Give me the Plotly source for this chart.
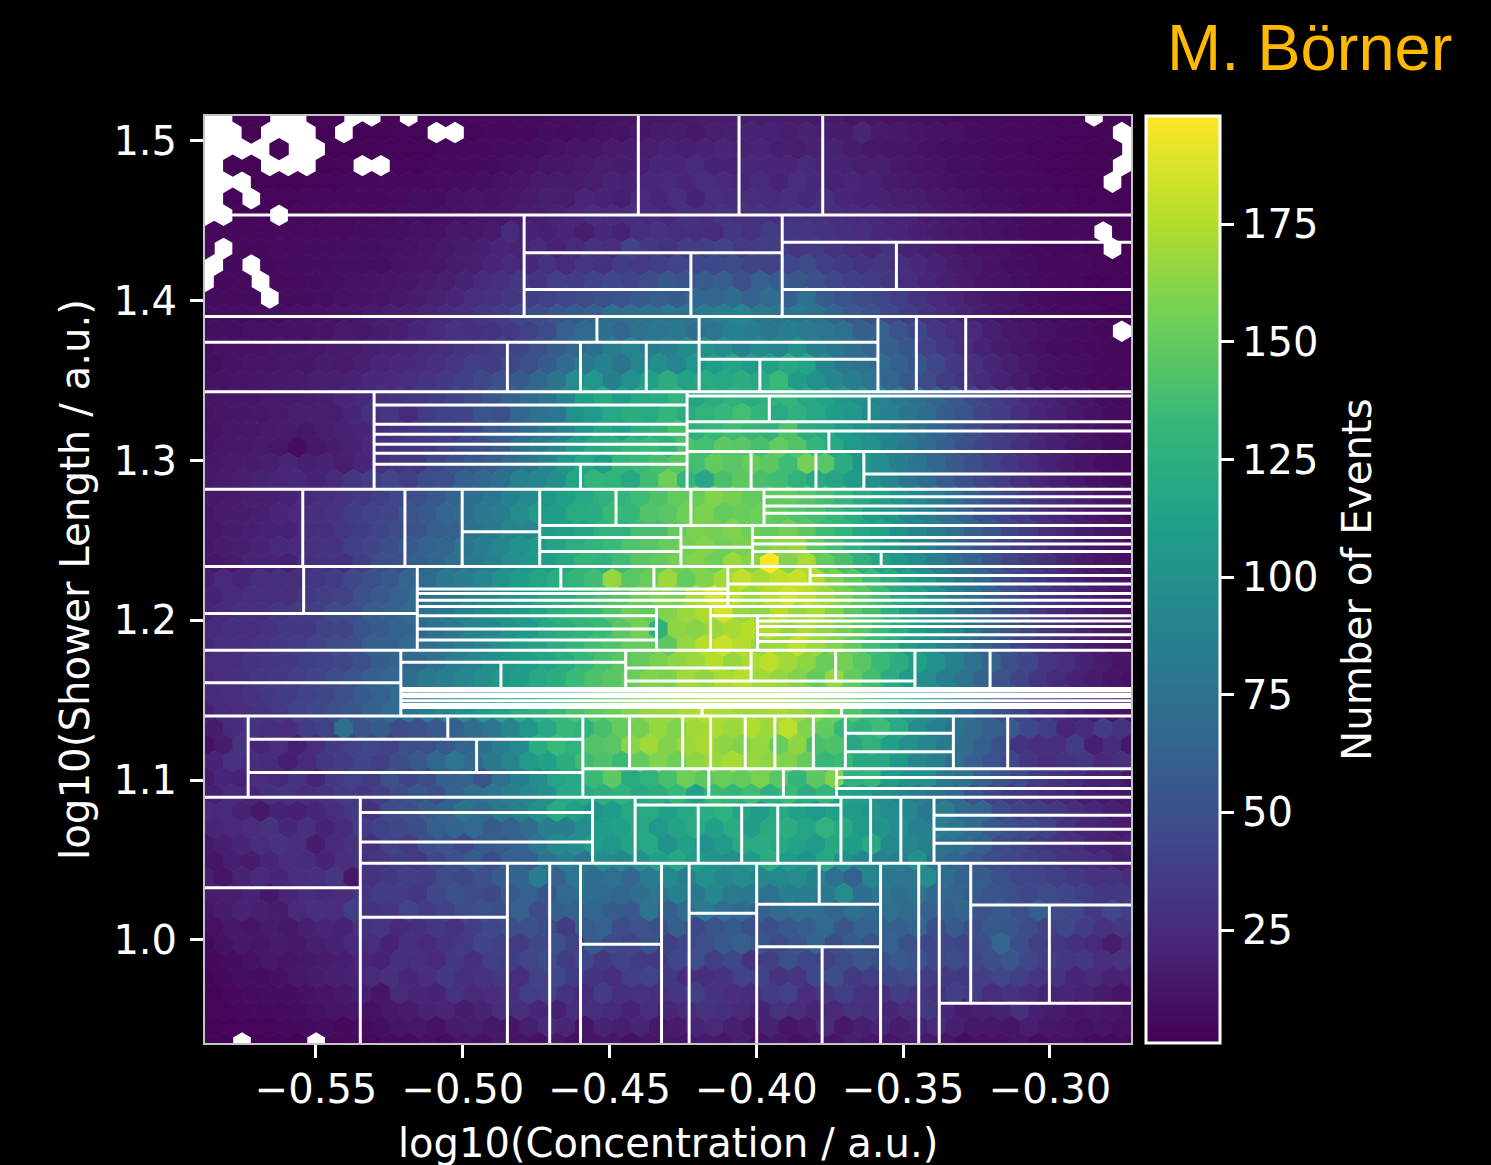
import plotly.graph_objects as go

X_MIN, X_MAX = -0.5878, -0.2724
Y_MIN, Y_MAX = 0.9355, 1.5156
XL, XR = X_MIN, X_MAX
YT = Y_MAX

x_ticks = [-0.55, -0.50, -0.45, -0.40, -0.35, -0.30]
y_ticks = [1.0, 1.1, 1.2, 1.3, 1.4, 1.5]
cbar_ticks = [25, 50, 75, 100, 125, 150, 175]

# Events per hexagonal bin, top row first; 0 = empty bin (drawn white)
r00 = [0,0,3,3,0,0,3,4,0,0,4,0,4,4,5,5,6,6,7,8,8,9,10,11,13,14,15,16,16,17,16,18,16,14,15,13,12,11,10,9,8,7,6,6,5,5,4,4,0,3,3]
r01 = [0,0,3,0,0,0,3,0,3,3,4,4,0,0,4,5,5,6,8,7,9,10,11,13,15,16,14,17,18,20,19,18,20,17,16,21,15,14,12,11,10,8,7,6,5,5,4,4,3,0]
r02 = [0,0,0,0,3,0,0,3,3,3,4,4,4,5,5,6,7,8,9,11,12,13,15,16,17,19,18,20,21,20,22,18,17,19,20,16,14,13,12,10,9,8,7,6,5,4,4,4,3,3,0]
r03 = [0,3,3,0,0,0,3,4,0,0,4,4,5,5,6,7,9,10,12,13,15,17,16,18,22,21,24,20,19,23,22,21,25,20,19,17,18,14,12,11,9,9,7,6,5,4,4,3,3,0]
r04 = [0,0,0,3,3,3,4,4,5,5,6,6,6,7,8,9,11,12,15,16,15,17,20,19,23,24,22,26,25,22,24,20,26,23,19,21,20,15,14,12,10,9,8,7,6,5,4,4,3,0,3]
r05 = [0,4,0,4,4,5,5,5,6,6,7,9,8,10,12,11,13,15,17,16,21,19,18,24,22,26,20,27,25,26,24,27,23,28,22,20,19,17,16,14,12,10,9,8,6,6,5,4,4,3]
r06 = [0,0,4,4,0,5,5,6,6,6,7,8,8,9,10,12,13,15,17,19,22,26,24,26,24,22,28,26,30,28,30,27,31,29,26,24,25,20,19,16,14,12,10,9,7,6,5,4,4,3,3]
r07 = [5,5,5,5,6,7,7,7,8,9,9,11,10,14,13,15,24,20,18,21,17,23,19,28,30,27,28,25,32,29,36,33,32,30,28,26,23,22,18,16,14,12,11,9,7,6,5,5,0,3]
r08 = [6,0,6,6,7,7,8,8,9,9,10,11,12,14,16,18,22,20,24,19,24,29,26,40,34,31,37,38,41,35,38,36,32,34,30,27,23,30,20,18,15,13,11,10,8,6,5,5,4,0,3]
r09 = [0,6,0,6,7,8,8,9,9,9,11,12,13,16,17,21,25,23,30,24,32,29,36,34,38,42,44,45,46,42,40,44,46,38,35,31,32,28,23,20,16,14,11,9,8,6,5,5,4,3]
r10 = [0,6,7,0,7,7,8,9,10,11,12,13,15,17,20,24,28,34,31,38,36,42,45,40,48,55,52,58,60,50,62,58,55,50,44,39,36,33,27,22,18,15,12,11,9,7,6,5,4,4,3]
r11 = [7,7,7,0,8,8,9,10,11,12,14,16,19,22,26,29,32,36,40,44,46,50,52,56,60,58,66,65,70,62,70,60,74,58,52,46,44,38,30,25,21,17,14,12,9,7,6,5,4,4]
r12 = [8,8,8,9,9,10,11,12,13,15,17,18,21,24,28,32,36,44,48,54,58,62,70,72,74,78,76,82,85,90,80,76,78,74,64,56,50,44,36,30,24,20,16,13,11,9,7,6,5,4,4]
r13 = [9,9,10,10,11,11,12,15,14,16,18,22,24,30,28,30,34,40,46,62,68,72,66,74,78,80,72,78,88,84,80,86,82,78,74,60,62,52,44,32,27,24,18,14,12,10,8,7,5,0]
r14 = [9,10,11,11,12,13,14,15,16,18,20,22,24,26,30,34,38,42,50,58,66,72,84,90,82,86,94,100,96,88,94,90,100,86,80,72,66,60,54,40,32,26,20,16,13,10,8,7,6,5,5]
r15 = [9,11,12,12,14,13,16,15,18,21,23,24,28,32,38,36,44,50,58,70,80,88,76,92,98,90,104,110,116,108,112,120,116,92,78,74,68,60,54,44,34,28,22,18,14,10,9,8,6,5]
r16 = [10,11,12,13,14,15,17,18,20,23,24,26,30,34,38,44,50,58,66,76,96,104,86,100,112,124,114,120,118,124,120,134,110,100,92,86,78,66,56,46,36,30,24,19,15,11,9,8,6,5,5]
r17 = [12,13,13,15,15,16,18,22,24,28,30,32,36,40,46,54,62,68,76,90,112,120,110,118,122,130,116,124,128,122,128,130,118,114,106,98,90,82,74,64,56,46,38,32,24,20,15,12,9,7]
r18 = [11,12,13,14,15,17,18,17,22,28,32,24,36,40,42,52,50,66,74,78,100,108,118,124,120,130,122,128,132,138,130,120,126,118,110,104,94,88,76,70,58,52,42,36,28,22,18,14,11,8,7]
r19 = [11,13,14,15,16,14,17,19,22,27,30,34,38,36,44,56,60,70,80,90,104,118,112,124,128,140,126,132,136,132,128,142,124,118,108,100,92,84,74,66,56,48,40,34,26,20,16,12,9,7]
r20 = [11,13,14,15,14,8,14,16,19,24,28,32,34,40,46,50,58,72,82,92,110,120,124,130,134,128,142,138,148,146,140,150,144,130,118,106,100,88,80,68,60,50,42,36,28,22,18,14,11,8,6]
r21 = [13,15,16,18,22,18,19,17,22,28,32,34,44,50,56,60,68,78,90,104,118,110,130,134,140,146,138,150,146,152,148,136,156,146,122,104,96,86,76,66,56,48,40,32,26,20,16,12,9,7]
r22 = [14,15,17,20,22,23,20,24,32,38,42,38,48,50,60,66,72,88,90,98,116,130,128,118,136,154,130,118,140,148,140,136,128,120,116,108,98,90,78,70,58,50,42,36,28,22,18,14,11,8,6]
r23 = [14,15,17,18,20,24,26,30,34,38,44,50,56,64,72,78,88,94,104,112,118,126,130,136,142,150,152,160,156,150,148,150,146,138,130,120,112,102,94,84,72,62,52,44,34,28,22,17,13,10]
r24 = [12,16,16,18,22,24,28,30,36,40,42,52,56,66,70,80,84,96,108,110,120,122,134,132,144,146,154,158,150,152,154,148,144,140,132,122,110,104,90,84,72,64,50,44,36,28,22,17,13,10,8]
r25 = [14,16,18,20,20,26,28,32,36,42,46,52,60,62,74,80,90,92,110,112,116,128,128,138,140,150,158,156,160,154,150,156,148,136,130,118,114,100,92,82,74,60,54,42,36,26,22,16,13,10]
r26 = [13,16,18,20,24,24,30,30,38,42,48,56,62,66,76,84,92,100,108,116,124,130,134,142,146,152,156,160,154,158,158,164,166,148,138,126,116,106,92,86,74,62,54,44,36,30,22,18,13,10,8]
r27 = [14,15,20,20,18,28,30,28,38,48,50,60,66,72,80,88,98,104,110,118,130,128,136,146,150,156,160,154,168,162,198,160,172,150,140,126,116,106,96,84,74,64,52,42,34,28,20,16,12,10]
r28 = [18,24,22,26,28,26,32,36,44,50,56,66,68,80,84,92,100,108,116,122,130,136,166,146,152,168,150,160,170,180,172,178,182,174,158,148,136,124,112,102,88,76,66,52,42,34,26,20,16,12,10]
r29 = [20,24,26,28,28,34,38,40,50,56,62,68,74,80,88,94,102,108,118,122,132,140,144,154,160,158,172,186,176,168,176,184,178,168,158,148,136,122,114,100,86,76,62,52,42,34,26,20,16,12]
r30 = [20,24,28,28,32,36,38,46,48,58,62,68,76,80,88,94,102,108,116,126,130,134,144,154,150,160,168,174,186,166,164,176,168,172,160,148,140,126,112,98,90,74,66,50,44,32,26,20,16,12,10]
r31 = [24,28,26,30,34,34,40,42,52,58,62,66,74,80,90,94,102,106,118,124,130,134,146,156,126,164,162,168,172,176,174,166,172,164,156,146,134,124,110,100,90,76,62,52,42,34,26,20,15,12]
r32 = [22,26,28,30,34,36,40,46,50,60,60,68,74,78,86,92,100,110,114,124,130,138,142,150,150,148,166,176,182,176,166,168,178,168,160,150,136,128,110,100,88,78,62,54,42,34,26,20,16,12,10]
r33 = [26,26,30,32,34,38,40,44,50,58,64,66,74,84,90,96,104,110,116,122,132,140,146,150,158,164,168,176,166,172,178,170,164,152,156,146,134,124,112,100,88,74,64,50,42,32,26,20,16,12]
r34 = [24,26,28,32,34,38,42,46,52,60,66,70,80,84,92,98,104,110,118,124,134,142,146,152,160,158,170,164,172,176,170,166,160,150,166,150,138,122,108,98,84,76,64,52,42,32,24,20,16,12,10]
r35 = [24,26,30,34,36,40,44,50,56,62,70,76,84,90,98,106,112,118,126,132,140,146,152,158,162,166,168,172,170,172,170,166,160,156,150,142,132,120,108,96,84,72,60,50,40,32,24,20,14,12]
r36 = [18,24,26,30,34,40,44,48,54,60,68,78,84,90,98,108,114,122,128,134,142,148,152,160,166,168,172,176,172,170,170,172,168,162,154,144,134,120,108,96,84,72,60,50,42,32,26,20,16,12,10]
r37 = [16,24,30,28,26,36,40,72,52,58,46,50,56,62,70,78,92,104,118,132,128,140,150,156,166,160,170,172,168,174,168,178,160,150,132,128,136,120,96,88,78,68,60,56,44,38,22,24,38,30]
r38 = [10,16,30,22,26,18,26,34,40,44,40,48,50,56,64,72,84,94,124,134,128,144,146,162,170,160,168,172,164,160,166,152,164,140,142,118,128,112,100,92,82,70,60,50,30,28,26,36,18,24,14]
r39 = [20,30,26,24,18,24,32,36,42,38,48,56,66,78,68,80,90,108,112,124,136,142,134,150,160,154,164,168,172,166,164,160,150,132,134,120,118,106,92,84,72,62,52,44,32,26,30,32,24,28]
r40 = [16,22,20,26,24,30,22,34,40,36,50,42,48,60,62,52,74,86,96,116,118,134,148,120,128,140,154,148,152,150,158,146,130,148,160,128,132,110,100,100,82,76,62,54,46,36,30,24,20,20,14]
r41 = [18,24,22,28,30,26,30,36,32,38,46,54,50,62,72,78,86,92,100,118,120,124,128,118,124,132,112,134,130,136,126,134,124,130,112,110,98,94,84,74,66,52,42,34,30,24,22,16,14,14]
r42 = [26,24,20,14,20,18,22,26,34,30,46,50,58,62,76,68,80,86,100,120,112,102,110,118,120,112,118,124,126,116,108,118,112,106,112,108,104,96,92,80,84,68,66,46,40,38,34,26,22,18,16]
r43 = [22,24,26,30,22,28,20,24,36,40,44,48,60,64,68,58,62,70,84,86,96,110,112,118,106,114,120,112,122,110,120,124,116,128,118,106,102,96,88,84,78,68,56,50,46,40,28,22,20,16]
r44 = [14,18,22,26,30,26,16,24,30,28,40,34,48,52,44,56,58,62,78,94,96,110,104,114,118,100,112,100,108,120,122,118,114,108,118,110,120,94,92,88,74,70,60,46,42,34,30,26,20,18,20]
r45 = [12,18,16,22,26,24,20,26,30,32,38,34,44,50,58,48,62,60,76,84,78,96,92,100,112,118,108,102,98,106,124,110,102,118,100,92,88,84,100,74,66,56,48,44,40,36,30,28,24,18]
r46 = [18,12,20,24,22,26,28,32,14,30,34,38,36,46,44,50,58,64,84,62,78,72,74,66,82,94,84,100,92,96,92,94,96,88,74,62,90,80,78,96,70,62,58,50,44,42,38,34,30,30,26]
r47 = [16,18,20,14,22,26,24,26,32,36,36,32,44,50,46,44,56,62,54,68,72,68,66,72,78,88,80,92,82,80,74,86,84,80,96,72,78,72,76,66,64,58,52,50,44,46,42,38,32,34]
r48 = [12,16,20,18,16,24,28,26,38,30,32,42,36,40,46,50,48,62,46,60,62,66,58,56,76,60,70,82,72,68,62,70,74,72,66,72,68,74,70,62,60,64,52,56,50,60,46,44,34,44,38]
r49 = [10,14,12,16,14,18,22,20,30,32,24,28,34,30,38,44,48,50,46,36,58,62,46,52,50,60,44,52,56,50,48,56,60,68,54,62,64,60,66,48,58,50,56,54,46,40,44,36,30,34]
r50 = [6,10,14,12,16,14,18,20,24,26,20,28,24,30,34,42,38,36,44,50,40,58,46,42,52,38,44,50,56,60,52,46,54,64,48,58,52,62,50,44,44,42,48,66,48,38,32,28,24,16,26]
r51 = [5,8,10,14,12,14,16,18,22,20,28,26,24,34,28,38,36,42,48,36,44,34,40,36,34,44,48,38,44,30,38,50,44,40,46,54,50,56,52,44,46,42,48,54,44,38,32,34,26,30]
r52 = [4,6,9,8,10,14,16,18,20,24,28,22,26,34,28,30,34,26,40,44,36,30,28,38,42,34,26,28,30,40,40,30,32,44,48,34,38,44,46,36,34,34,38,44,38,32,30,22,24,20,20]
r53 = [3,5,7,8,8,10,12,14,18,12,24,22,20,30,24,26,28,38,40,30,24,36,28,30,26,32,38,30,26,24,36,40,26,32,38,30,28,36,32,30,38,36,26,30,24,20,22,20,16,12]
r54 = [4,4,5,6,7,8,10,12,13,10,14,16,20,22,16,20,26,28,22,18,26,28,24,20,26,22,24,30,28,24,20,30,26,22,24,30,28,22,26,34,22,16,18,20,28,18,16,12,14,12,10]
r55 = [3,4,4,4,5,7,8,6,7,9,12,14,10,16,18,14,12,18,24,22,12,20,18,22,14,16,22,24,18,14,20,12,16,24,14,18,22,16,20,24,18,14,14,12,18,14,12,10,12,10]
r56 = [4,4,0,3,4,3,0,5,6,5,8,6,10,8,12,10,14,12,10,14,10,12,14,10,12,14,12,16,14,18,12,14,10,14,12,18,14,12,16,14,12,8,10,10,12,8,10,10,8,6,6]
hex_rows = [r00,r01,r02,r03,r04,r05,r06,r07,r08,r09,r10,r11,r12,r13,r14,r15,r16,r17,r18,r19,
            r20,r21,r22,r23,r24,r25,r26,r27,r28,r29,r30,r31,r32,r33,r34,r35,r36,r37,r38,r39,
            r40,r41,r42,r43,r44,r45,r46,r47,r48,r49,r50,r51,r52,r53,r54,r55,r56]

# Bin edges of the adaptive binning: (y, x from, x to)
horizontal_edges = [
    (1.4537,XL,XR),(1.4366,-0.3912,XR),(1.4301,-0.4791,-0.3912),(1.4070,-0.4791,-0.4223),(1.4070,-0.3912,XR),
    (1.3901,XL,XR),(1.3740,XL,-0.3586),(1.3634,-0.4195,-0.3586),(1.3431,XL,XR),
    (1.3404,-0.4236,XR),(1.3348,-0.5302,-0.4236),(1.3243,-0.4236,XR),(1.3227,-0.5302,-0.4236),(1.3185,-0.4236,XR),
    (1.3165,-0.5302,-0.4236),(1.3102,-0.5302,-0.4236),(1.3056,-0.4236,XR),(1.3046,-0.5302,-0.4236),(1.2976,-0.5302,-0.4236),
    (1.2916,-0.3634,XR),(1.2820,XL,XR),
    (1.2774,-0.3974,XR),(1.2716,-0.3974,XR),(1.2670,-0.3974,XR),(1.2594,-0.4738,XR),(1.2555,-0.5002,-0.4738),
    (1.2518,-0.4738,-0.4257),(1.2518,-0.4013,XR),(1.2478,-0.4013,XR),(1.2457,-0.4257,-0.4013),
    (1.2430,-0.4738,-0.4257),(1.2430,-0.4013,XR),(1.2337,XL,XR),
    (1.2280,-0.3817,XR),(1.2228,-0.4097,XR),(1.2196,-0.5155,-0.4097),(1.2168,-0.4097,XR),(1.2168,-0.5155,-0.4097),
    (1.2126,-0.5155,XR),(1.2086,-0.5155,XR),(1.2043,XL,-0.5155),
    (1.2029,-0.5155,-0.4340),(1.2029,-0.4156,XR),(1.1996,-0.3996,XR),(1.1961,-0.3996,XR),(1.1946,-0.5155,-0.4340),
    (1.1909,-0.3996,XR),(1.1877,-0.5155,-0.4340),(1.1867,-0.3996,XR),(1.1812,XL,XR),
    (1.1737,-0.5211,-0.4445),(1.1702,-0.4445,-0.4018),(1.1621,-0.4445,-0.3460),(1.1610,XL,-0.5211),
    (1.1574,-0.5211,XR),(1.1558,-0.5211,XR),(1.1536,-0.5211,XR),(1.1521,-0.5211,XR),(1.1496,-0.5211,XR),
    (1.1474,-0.5211,XR),(1.1455,-0.5211,XR),(1.1402,XL,XR),
    (1.1294,-0.3697,-0.3329),(1.1256,-0.5731,-0.4591),(1.1178,-0.3697,-0.3329),(1.1071,-0.4591,XR),(1.1047,-0.5731,-0.4591),
    (1.1016,-0.3727,XR),(1.0947,-0.3727,XR),(1.0893,XL,XR),
    (1.0845,-0.4413,-0.3712),(1.0797,-0.5349,-0.4558),(1.0780,-0.3395,XR),(1.0693,-0.3395,XR),
    (1.0613,-0.5349,-0.4558),(1.0605,-0.3395,XR),(1.0480,-0.5349,XR),(1.0327,XL,-0.5349),
    (1.0223,-0.3999,-0.3577),(1.0219,-0.3270,XR),(1.0167,-0.4229,-0.3999),(1.0142,-0.5349,-0.4848),
    (0.9973,-0.4599,-0.4323),(0.9958,-0.3999,-0.3577),(0.9604,-0.3377,XR),
]
# (x, y from, y to)
vertical_edges = [
    (-0.4402,1.4537,YT),(-0.4059,1.4537,YT),(-0.3774,1.4537,YT),
    (-0.4791,1.3901,1.4537),(-0.3912,1.3901,1.4537),(-0.3523,1.4070,1.4366),(-0.4223,1.3901,1.4301),
    (-0.4543,1.3740,1.3901),(-0.4195,1.3431,1.3901),(-0.3988,1.3431,1.3634),(-0.3586,1.3431,1.3901),
    (-0.3455,1.3431,1.3901),(-0.3287,1.3431,1.3901),(-0.4848,1.3431,1.3740),(-0.4599,1.3431,1.3740),(-0.4375,1.3431,1.3740),
    (-0.5302,1.2820,1.3431),(-0.4236,1.2820,1.3431),(-0.4599,1.2820,1.2976),(-0.3956,1.3243,1.3404),(-0.3616,1.3243,1.3404),
    (-0.3753,1.3056,1.3185),(-0.4018,1.2820,1.3056),(-0.3797,1.2820,1.3056),(-0.3634,1.2820,1.3056),
    (-0.5545,1.2337,1.2820),(-0.5197,1.2337,1.2820),(-0.5002,1.2337,1.2820),(-0.4738,1.2337,1.2820),
    (-0.4478,1.2594,1.2820),(-0.4223,1.2594,1.2820),(-0.3974,1.2594,1.2820),(-0.4257,1.2337,1.2594),(-0.4013,1.2337,1.2594),
    (-0.3575,1.2337,1.2430),(-0.5542,1.2043,1.2337),(-0.5155,1.1812,1.2337),(-0.4666,1.2196,1.2337),(-0.4349,1.2196,1.2337),
    (-0.4097,1.2086,1.2337),(-0.3817,1.2228,1.2337),(-0.4340,1.1812,1.2086),(-0.4156,1.1812,1.2086),(-0.3996,1.1812,1.2029),
    (-0.5211,1.1402,1.1812),(-0.4870,1.1574,1.1737),(-0.4445,1.1574,1.1812),(-0.4018,1.1621,1.1812),(-0.3730,1.1621,1.1812),
    (-0.3460,1.1574,1.1812),(-0.3204,1.1574,1.1812),(-0.4185,1.1402,1.1455),(-0.3710,1.1402,1.1455),
    (-0.5731,1.0893,1.1402),(-0.5051,1.1256,1.1402),(-0.4953,1.1047,1.1256),(-0.4591,1.0893,1.1402),
    (-0.4432,1.1071,1.1402),(-0.4251,1.1071,1.1402),(-0.4156,1.1071,1.1402),(-0.4038,1.1071,1.1402),(-0.3937,1.1071,1.1402),
    (-0.3806,1.1071,1.1402),(-0.3697,1.1071,1.1402),(-0.3329,1.1071,1.1402),(-0.3144,1.1071,1.1402),
    (-0.4162,1.0893,1.1071),(-0.3908,1.0893,1.1071),(-0.3727,1.0893,1.1071),
    (-0.5349,Y_MIN,1.0893),(-0.4558,1.0480,1.0893),(-0.4413,1.0480,1.0893),(-0.4198,1.0480,1.0845),(-0.4050,1.0480,1.0845),
    (-0.3927,1.0480,1.0845),(-0.3712,1.0480,1.0893),(-0.3611,1.0480,1.0893),(-0.3508,1.0480,1.0893),(-0.3395,1.0480,1.0893),
    (-0.4848,Y_MIN,1.0480),(-0.4704,Y_MIN,1.0480),(-0.4599,Y_MIN,1.0480),(-0.4323,Y_MIN,1.0480),(-0.4229,Y_MIN,1.0480),
    (-0.3999,Y_MIN,1.0480),(-0.3786,1.0223,1.0480),(-0.3776,Y_MIN,0.9958),(-0.3577,Y_MIN,1.0480),(-0.3447,Y_MIN,1.0480),
    (-0.3377,Y_MIN,1.0480),(-0.3270,0.9604,1.0480),(-0.3002,0.9604,1.0219),
]

dx = (XR - XL) / 50
dy = (Y_MAX - Y_MIN) / 56
hx, hy, hv = [], [], []
for k, row in enumerate(hex_rows):
    off = 0 if k % 2 == 0 else dx / 2
    for i, v in enumerate(row):
        if v > 0:
            hx.append(XL + off + i * dx)
            hy.append(YT - k * dy)
            hv.append(v)

lx, ly = [], []
for y, a, b in horizontal_edges:
    lx += [a, b, None]
    ly += [y, y, None]
for x, a, b in vertical_edges:
    lx += [x, x, None]
    ly += [a, b, None]

FONT = "DejaVu Sans"
fig = go.Figure()
fig.add_trace(go.Scatter(
    x=hx, y=hy, mode="markers", hoverinfo="skip",
    marker=dict(symbol="hexagon", size=22.4, line=dict(width=0), color=hv,
                colorscale="Viridis", cmin=1, cmax=198, showscale=True,
                colorbar=dict(x=1.0163, xanchor="left", y=0.5, yanchor="middle", len=1, lenmode="fraction",
                              thickness=74, thicknessmode="pixels", xpad=0, ypad=0,
                              outlinecolor="white", outlinewidth=3, borderwidth=0,
                              tickvals=cbar_ticks, ticks="outside", ticklen=13, tickwidth=3, tickcolor="white",
                              tickprefix="\u2005\u2006",
                              tickfont=dict(family=FONT, size=40, color="white"))),
))
fig.add_trace(go.Scatter(x=lx, y=ly, mode="lines", hoverinfo="skip",
                         line=dict(color="white", width=3), connectgaps=False))

axis = dict(showgrid=False, zeroline=False, ticks="outside", ticklen=13, tickwidth=3, tickcolor="white",
            linecolor="#c4c4c4", linewidth=2, mirror=True,
            tickfont=dict(family=FONT, size=40, color="white"))
fig.update_xaxes(range=[X_MIN, X_MAX], tickvals=x_ticks, tickformat=".2f", ticklabelstandoff=-3, **axis)
fig.update_yaxes(range=[Y_MIN, Y_MAX], tickvals=y_ticks, tickformat=".1f", ticklabelstandoff=5, **axis)

def label(text, x, y, size, color="white", family=FONT, angle=0):
    fig.add_annotation(text=text, xref="paper", yref="paper", x=x, y=y, showarrow=False,
                       font=dict(family=family, size=size, color=color), textangle=angle,
                       xanchor="center", yanchor="middle")

W, H = 926, 927
label("log10(Concentration / a.u.)", (668 - 205) / W, (1043 - 1143) / H, 40)
label("log10(Shower Length / a.u.)", (75 - 205) / W, (1043 - 580) / H, 40.3, angle=-90)
label("Number of Events", (1357 - 205) / W, (1043 - 580) / H, 40.3, angle=-90)
label("M. Börner", (1309 - 205) / W, (1043 - 48) / H, 65, color="#FFB900", family="Liberation Sans")

fig.update_layout(width=1491, height=1165, autosize=False,
                  margin=dict(l=205, r=360, t=116, b=122, pad=0),
                  paper_bgcolor="black", plot_bgcolor="white", showlegend=False)
fig.write_html("out.html", config={"displayModeBar": False},
               post_script="document.body.style.margin='0';document.body.style.overflow='hidden';")
